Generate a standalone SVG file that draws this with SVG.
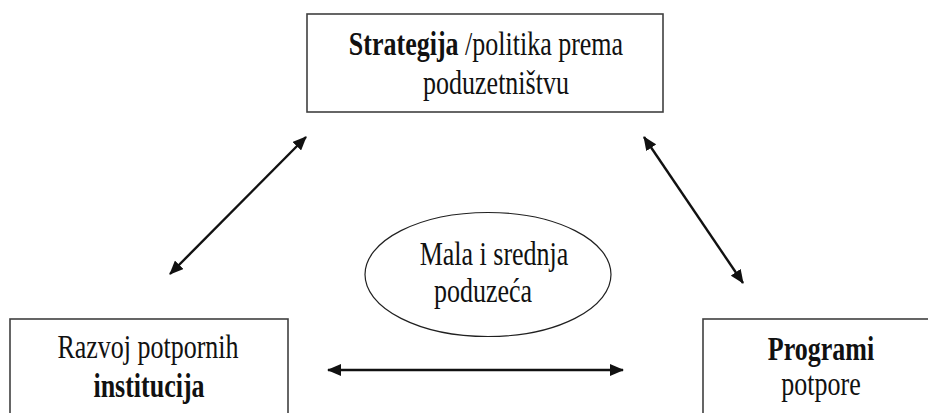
<svg xmlns="http://www.w3.org/2000/svg" width="928" height="413" viewBox="0 0 928 413">
<style>
.box{fill:#fff;stroke:#404040;stroke-width:1.6}
.ell{fill:#fff;stroke:#202020;stroke-width:1.2}
.t{font-family:"Liberation Serif","Times New Roman",serif;font-size:26px;fill:#111;text-anchor:middle}
.b{font-weight:bold}
.conn{stroke:#111;stroke-width:2.4;fill:none;marker-start:url(#ah);marker-end:url(#ah)}
</style>
<defs>
<marker id="ah" viewBox="0 0 14 12" refX="13" refY="6" markerWidth="14" markerHeight="12" markerUnits="userSpaceOnUse" orient="auto-start-reverse">
<path d="M0,0 L14,6 L0,12 Z" fill="#111"/>
</marker>
</defs>
<rect width="928" height="413" fill="#fff"/>
<g id="strategija">
<rect class="box" x="307" y="14" width="356" height="98"/>
<text class="t" transform="translate(486 55) scale(1 1.3)"><tspan class="b">Strategija</tspan> /politika prema</text>
<text class="t" transform="translate(496 94) scale(1 1.3)">poduzetništvu</text>
</g>
<g id="institucije">
<rect class="box" x="10" y="319" width="278" height="110"/>
<text class="t" transform="translate(148 358) scale(1 1.3)">Razvoj potpornih</text>
<text class="t b" transform="translate(149 397) scale(1 1.3)">institucija</text>
</g>
<g id="programi">
<rect class="box" x="703" y="319" width="240" height="110"/>
<text class="t b" transform="translate(821 360) scale(1 1.3)">Programi</text>
<text class="t" transform="translate(821 395) scale(1 1.3)">potpore</text>
</g>
<g id="msp">
<ellipse class="ell" cx="488" cy="274.5" rx="123" ry="62"/>
<text class="t" transform="translate(494 265) scale(1 1.3)">Mala i srednja</text>
<text class="t" transform="translate(483 302) scale(1 1.3)">poduzeća</text>
</g>
<g id="connectors">
<line class="conn" x1="170" y1="274" x2="306" y2="137"/>
<line class="conn" x1="644" y1="137" x2="743" y2="283"/>
<line class="conn" x1="328" y1="370" x2="623" y2="370"/>
</g>
</svg>
